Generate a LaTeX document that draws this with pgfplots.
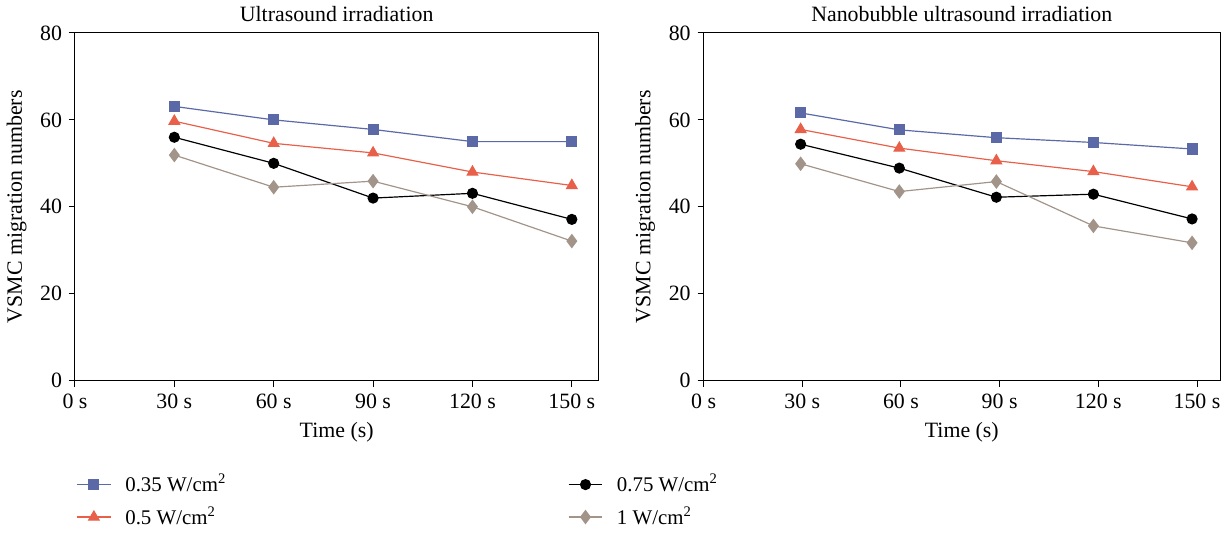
\documentclass[border=0pt]{standalone}
\usepackage{fontspec}
\setmainfont{Liberation Serif}
\usepackage{pgfplots}
\pgfplotsset{compat=1.18}

\definecolor{cBlue}{HTML}{5B6AA6}
\definecolor{cRed}{HTML}{E8604A}
\definecolor{cGray}{HTML}{A29489}

\pgfplotsset{
  panel/.style={
    scale only axis, height=175pt,
    xmin=0, ymin=0, ymax=80,
    xtick={0,30,...,150}, ytick={0,20,...,80},
    xticklabel={\pgfmathprintnumber{\tick}~s},
    tick align=outside, xtick pos=bottom, ytick pos=left,
    major tick length=3pt,
    tick style={black, line width=0.5pt},
    axis line style={line width=0.5pt},
    /pgf/number format/assume math mode=true,
    tick label style={font=\fontsize{11}{13}\selectfont},
    label style={font=\fontsize{11}{13}\selectfont},
    title style={font=\fontsize{11}{13}\selectfont, yshift=-4pt},
    xlabel={Time (s)}, ylabel={VSMC migration numbers},
    every axis plot/.append style={line width=0.6pt},
  },
  sBlue/.style={color=cBlue, mark=square*, mark size=2.5pt},
  sRed/.style={color=cRed, mark=triangle*, mark size=3pt},
  sBlack/.style={color=black, mark=*, mark size=2.5pt},
  sGray/.style={color=cGray, mark=diamond*, mark size=3.2pt},
}

\begin{document}
\begin{tikzpicture}
\begin{axis}[panel, width=263.5pt, xmax=158,
  title={Ultrasound irradiation},
  legend columns=2, transpose legend,
  legend cell align=left,
  legend style={draw=none, at={(0,0)}, anchor=north west, xshift=-2.5pt, yshift=-43pt,
    font=\fontsize{10.5}{12}\selectfont, row sep=2pt,
    /tikz/every odd column/.append style={column sep=5pt},
    /tikz/every even column/.append style={column sep=170pt}},
]
\addplot[sBlue] coordinates {(30,63.1)(60,60.0)(90,57.8)(120,55.0)(150,55.0)};
\addlegendentry{0.35 W/cm\textsuperscript{2}}
\addplot[sRed] coordinates {(30,59.7)(60,54.6)(90,52.4)(120,48.0)(150,44.9)};
\addlegendentry{0.5 W/cm\textsuperscript{2}}
\addplot[sBlack] coordinates {(30,56.0)(60,50.0)(90,42.0)(120,43.1)(150,37.1)};
\addlegendentry{0.75 W/cm\textsuperscript{2}}
\addplot[sGray] coordinates {(30,51.9)(60,44.5)(90,45.9)(120,40.0)(150,32.1)};
\addlegendentry{1 W/cm\textsuperscript{2}}
\end{axis}

\begin{axis}[panel, width=260pt, xmax=157, xshift=316.5pt,
  title={Nanobubble ultrasound irradiation},
]
\addplot[sBlue] coordinates {(29.5,61.6)(59.5,57.7)(89,55.9)(118.5,54.8)(148.5,53.3)};
\addplot[sRed] coordinates {(29.5,57.8)(59.5,53.5)(89,50.6)(118.5,48.1)(148.5,44.6)};
\addplot[sBlack] coordinates {(29.5,54.4)(59.5,48.9)(89,42.2)(118.5,42.9)(148.5,37.2)};
\addplot[sGray] coordinates {(29.5,49.9)(59.5,43.5)(89,45.8)(118.5,35.6)(148.5,31.7)};
\end{axis}
\end{tikzpicture}
\end{document}
